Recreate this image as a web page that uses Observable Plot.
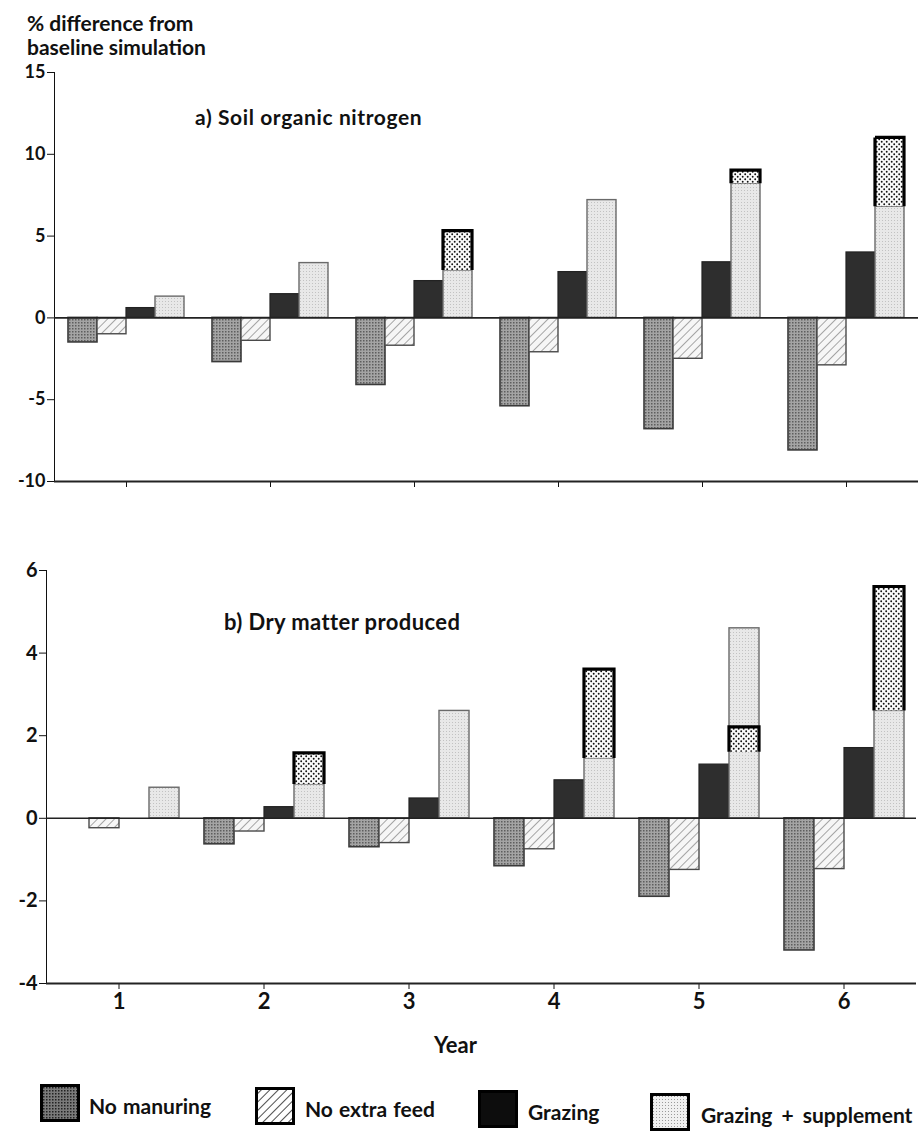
<!DOCTYPE html>
<html><head><meta charset="utf-8">
<script src="https://cdn.jsdelivr.net/npm/d3@7"></script>
<script src="https://cdn.jsdelivr.net/npm/@observablehq/plot@0.6"></script>
<style>
html,body{margin:0;padding:0;background:#fff;overflow:hidden}
body{width:920px;height:1131px;position:relative;font-family:Lato,"DejaVu Sans",sans-serif;font-weight:700;color:#111}
.abs{position:absolute;white-space:nowrap;line-height:1}
#chartA{position:absolute;left:0;top:58px}
#chartB{position:absolute;left:0;top:500px}
#chartA svg text{font-weight:700}
#chartB svg text{font-weight:700}
#chartB g[aria-label^="fx-axis"] text{font-size:22px}
.sw{position:absolute;width:40px;height:38px}
</style></head><body>
<svg width="0" height="0" style="position:absolute">
  <defs>
    <pattern id="pNM" width="3" height="3" patternUnits="userSpaceOnUse">
      <rect width="3" height="3" fill="#a4a4a4"/>
      <rect width="1.5" height="1.5" fill="#5e5e5e"/>
    </pattern>
    <pattern id="pNMleg" width="3" height="3" patternUnits="userSpaceOnUse">
      <rect width="3" height="3" fill="#7a7a7a"/>
      <rect width="1.5" height="1.5" fill="#222"/>
    </pattern>
    <pattern id="pNEF" width="6" height="6" patternUnits="userSpaceOnUse" patternTransform="rotate(45)">
      <rect width="6" height="6" fill="#f6f6f6"/>
      <line x1="0" y1="0" x2="0" y2="6" stroke="#9c9c9c" stroke-width="1.8"/>
    </pattern>
    <pattern id="pNEFleg" width="6" height="6" patternUnits="userSpaceOnUse" patternTransform="rotate(45)">
      <rect width="6" height="6" fill="#fff"/>
      <line x1="0" y1="0" x2="0" y2="6" stroke="#222" stroke-width="1.6"/>
    </pattern>
    <pattern id="pGS" width="3" height="3" patternUnits="userSpaceOnUse">
      <rect width="3" height="3" fill="#e8e8e8"/>
      <rect width="1" height="1" fill="#c2c2c2"/>
    </pattern>
    <pattern id="pGSleg" width="3" height="3" patternUnits="userSpaceOnUse">
      <rect width="3" height="3" fill="#f0f0f0"/>
      <rect width="1" height="1" fill="#9a9a9a"/>
    </pattern>
    <pattern id="pEX" width="5" height="5" patternUnits="userSpaceOnUse">
      <rect width="5" height="5" fill="#fafafa"/>
      <circle cx="1.2" cy="1.2" r="0.95" fill="#111"/>
      <circle cx="3.7" cy="3.7" r="0.95" fill="#111"/>
    </pattern>
  </defs>
</svg>

<div class="abs" style="left:27px;top:12px;font-size:21px">% difference from</div>
<div class="abs" style="left:27px;top:36px;font-size:21px">baseline simulation</div>
<div id="chartA"></div>
<div id="chartB"></div>
<div class="abs" style="left:195px;top:106px;font-size:21px;letter-spacing:0.6px">a) Soil organic nitrogen</div>
<div class="abs" style="left:224px;top:611px;font-size:22px;letter-spacing:0.4px">b) Dry matter produced</div>
<div class="abs" style="left:434px;top:1034px;font-size:22px">Year</div>
<div id="legend"></div>

<script>
// ---- data ----
const years = [1, 2, 3, 4, 5, 6];
const seriesNames = ["No manuring", "No extra feed", "Grazing", "Grazing + supplement"];

// a) Soil organic nitrogen (% difference from baseline)
const aNoManuring   = [-1.5, -2.7, -4.1, -5.4, -6.8, -8.1];
const aNoExtraFeed  = [-1.0, -1.4, -1.7, -2.1, -2.5, -2.9];
const aGrazing      = [0.6, 1.45, 2.25, 2.8, 3.4, 4.0];
const aGrazingSupp  = [1.3, 3.35, 2.9, 7.2, 8.2, 6.8];
const aSuppTopLow   = [null, null, 2.9, null, 8.2, 6.8];
const aSuppTopHigh  = [null, null, 5.3, null, 9.0, 11.0];
const aTicks = [15, 10, 5, 0, -5, -10];

// b) Dry matter produced (% difference from baseline)
const bNoManuring   = [0, -0.63, -0.7, -1.16, -1.9, -3.2];
const bNoExtraFeed  = [-0.24, -0.32, -0.6, -0.75, -1.25, -1.23];
const bGrazing      = [0, 0.27, 0.48, 0.92, 1.3, 1.7];
const bGrazingSupp  = [0.74, 0.82, 2.6, 1.45, 4.6, 2.6];
const bSuppTopLow   = [null, 0.82, null, 1.45, 1.6, 2.6];
const bSuppTopHigh  = [null, 1.57, null, 3.6, 2.2, 5.6];
const bTicks = [6, 4, 2, 0, -2, -4];

// ---- styles ----
const styles = {
  "No manuring":          {fill: "url(#pNM)",  stroke: "#3a3a3a", sw: 1.6, legFill: "url(#pNMleg)"},
  "No extra feed":        {fill: "url(#pNEF)", stroke: "#4a4a4a", sw: 1.4, legFill: "url(#pNEFleg)"},
  "Grazing":              {fill: "#2e2e2e",    stroke: "#222",    sw: 1.2, legFill: "#0d0d0d"},
  "Grazing + supplement": {fill: "url(#pGS)",  stroke: "#6a6a6a", sw: 1.4, legFill: "url(#pGSleg)"}
};

function buildRows(vals, lows, highs) {
  const rows = [];
  years.forEach((yr, i) => {
    seriesNames.forEach((s, j) => {
      rows.push({year: yr, series: s, value: vals[j][i],
        extraLow: j === 3 ? lows[i] : null, extraHigh: j === 3 ? highs[i] : null});
    });
  });
  return rows;
}

function panel({rows, domain, ticks, marginLeft, marginRight, marginTop, marginBottom, height, fontSize, showLabels}) {
  const svg = Plot.plot({
    width: 920,
    height,
    marginLeft, marginRight, marginTop, marginBottom,
    style: {fontFamily: "Lato, 'DejaVu Sans', sans-serif", fontSize: fontSize + "px", color: "#111", background: "transparent", overflow: "visible"},
    facet: {data: rows, x: "year"},
    fx: {domain: years, padding: 0, label: null, axis: "bottom", tickSize: 6, tickPadding: 4,
         tickFormat: showLabels ? (d => String(d)) : (() => "")},
    x: {domain: seriesNames, axis: null, paddingInner: 0, paddingOuter: 0.41},
    y: {domain, ticks, tickSize: 7, tickPadding: 2, label: null, line: true, tickFormat: d => String(d)},
    marks: [
      ...seriesNames.map(s => Plot.barY(rows, {
        filter: d => d.series === s && d.value !== 0,
        x: "series", y: "value",
        fill: styles[s].fill, stroke: styles[s].stroke, strokeWidth: styles[s].sw
      })),
      Plot.barY(rows, {
        filter: d => d.extraHigh != null,
        x: "series", y1: "extraLow", y2: "extraHigh",
        fill: "url(#pEX)", stroke: "#000", strokeWidth: 3.2
      }),
      Plot.ruleY([0], {stroke: "#222", strokeWidth: 1.6}),
      Plot.ruleY([domain[0]], {stroke: "#222", strokeWidth: 1.8})
    ]
  });
  // open-bottom outline for the dense-dot top segments (thick border on top and sides only)
  svg.querySelectorAll('g[fill="url(#pEX)"] rect').forEach(r => {
    const w = +r.getAttribute("width"), h = +r.getAttribute("height");
    if (w > 0 && h > 0) r.setAttribute("stroke-dasharray", `${w + h} ${w} ${h}`);
  });
  return svg;
}

const rowsA = buildRows([aNoManuring, aNoExtraFeed, aGrazing, aGrazingSupp], aSuppTopLow, aSuppTopHigh);
const rowsB = buildRows([bNoManuring, bNoExtraFeed, bGrazing, bGrazingSupp], bSuppTopLow, bSuppTopHigh);

document.getElementById("chartA").append(panel({
  rows: rowsA, domain: [-10, 15], ticks: aTicks,
  marginLeft: 51, marginRight: 0, marginTop: 14, marginBottom: 19, height: 442,
  fontSize: 18, showLabels: false
}));
document.getElementById("chartB").append(panel({
  rows: rowsB, domain: [-4, 6], ticks: bTicks,
  marginLeft: 46, marginRight: 4, marginTop: 70, marginBottom: 77, height: 560,
  fontSize: 20, showLabels: true
}));

// ---- legend ----
const legendPos = [
  {sw: 40, tx: 89, top: 1084},
  {sw: 255, tx: 305, top: 1087},
  {sw: 478, tx: 528, top: 1090},
  {sw: 650, tx: 701, top: 1093}
];
const legend = document.getElementById("legend");
seriesNames.forEach((s, i) => {
  const p = legendPos[i];
  const sw = document.createElement("div");
  sw.className = "sw";
  sw.style.left = p.sw + "px";
  sw.style.top = p.top + "px";
  sw.innerHTML = `<svg width="40" height="38"><rect x="1.5" y="1.5" width="37" height="35" fill="${styles[s].legFill}" stroke="#000" stroke-width="3"/></svg>`;
  legend.append(sw);
  const t = document.createElement("div");
  t.className = "abs";
  t.style.left = p.tx + "px";
  t.style.top = (p.top + 11) + "px";
  t.style.fontSize = "21px";
  t.style.wordSpacing = i === 3 ? "4px" : "1px";
  t.textContent = s;
  legend.append(t);
});
</script>
</body></html>
